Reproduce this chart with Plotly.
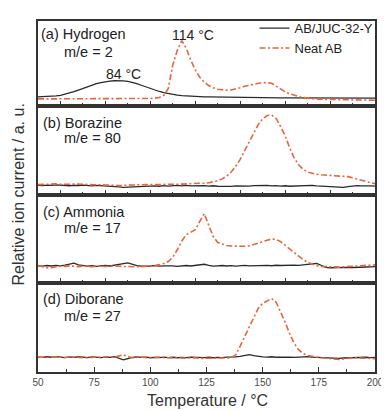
import plotly.graph_objects as go

# ---------------- data ----------------
TEMPERATURE = [50, 52, 54, 56, 58, 60, 62, 64, 66, 68,
               70, 72, 74, 76, 78, 80, 82, 84, 86, 88,
               90, 92, 94, 96, 98, 100, 102, 104, 106, 108,
               110, 112, 114, 116, 118, 120, 122, 124, 126, 128,
               130, 132, 134, 136, 138, 140, 142, 144, 146, 148,
               150, 152, 154, 156, 158, 160, 162, 164, 166, 168,
               170, 172, 174, 176, 178, 180, 182, 184, 186, 188,
               190, 192, 194, 196, 198, 200]

# (a) Hydrogen, m/e = 2
H2_COMPOSITE = [9.3, 9.4, 9.6, 9.9, 10.4, 11.0, 12.0, 13.2, 14.7, 16.4,
                18.2, 19.9, 21.5, 22.9, 24.0, 24.9, 25.5, 25.9, 26.0, 25.8,
                25.2, 24.2, 22.9, 21.3, 19.6, 17.9, 16.3, 14.9, 13.7, 12.7,
                11.9, 11.2, 10.7, 10.3, 10.0, 9.8, 9.6, 9.4, 9.3, 9.2,
                9.1, 9.0, 8.9, 8.9, 8.8, 8.8, 8.7, 8.7, 8.6, 8.6,
                8.6, 8.5, 8.5, 8.5, 8.4, 8.4, 8.4, 8.4, 8.3, 8.3,
                8.3, 8.3, 8.3, 8.2, 8.2, 8.2, 8.2, 8.2, 8.2, 8.2,
                8.2, 8.2, 8.2, 8.2, 8.2, 8.2]
H2_NEAT = [7.3, 7.3, 7.2, 7.3, 7.4, 7.3, 7.2, 7.3, 7.3, 7.4,
           7.3, 7.2, 7.3, 7.3, 7.4, 7.3, 7.3, 7.2, 7.3, 7.4,
           7.4, 7.4, 7.5, 7.5, 7.6, 7.8, 8.1, 8.8, 11.0, 18.0,
           42.0, 57.0, 67.0, 59.0, 47.0, 37.0, 29.5, 24.5, 21.0, 18.6,
           17.2, 16.4, 16.2, 16.5, 17.4, 18.8, 20.2, 21.5, 22.5, 23.3,
           23.8, 24.0, 23.2, 20.5, 17.0, 14.6, 12.5, 10.9, 9.7, 8.7,
           8.0, 7.5, 7.1, 6.9, 6.8, 6.7, 6.6, 6.6, 6.5, 6.4,
           6.3, 6.2, 6.2, 6.1, 6.0, 6.0]

# (b) Borazine, m/e = 80
BORAZINE_COMPOSITE = [10.0, 9.6, 10.2, 9.8, 10.4, 9.9, 10.1, 9.5, 10.0, 9.7,
                      10.2, 9.8, 9.4, 9.9, 9.6, 9.2, 9.5, 8.9, 8.4, 7.8,
                      8.0, 8.6, 8.2, 8.9, 9.1, 8.7, 9.3, 9.0, 9.6, 9.2,
                      9.5, 9.9, 9.4, 9.8, 9.3, 9.6, 10.1, 9.7, 9.2, 9.5,
                      9.0, 8.7, 9.1, 8.8, 9.3, 9.0, 9.4, 9.1, 9.6, 9.8,
                      9.5, 9.9, 9.4, 9.7, 9.2, 9.5, 9.0, 9.3, 9.6, 9.2,
                      9.5, 9.8, 9.4, 9.1, 9.5, 9.2, 8.8, 8.2, 7.9, 8.6,
                      9.2, 9.6, 9.3, 9.7, 9.4, 9.2]
BORAZINE_NEAT = [10.6, 10.9, 11.2, 10.8, 11.4, 11.0, 10.7, 11.1, 11.3, 10.9,
                 11.2, 10.8, 10.6, 10.9, 10.5, 10.3, 10.0, 9.8, 9.6, 9.9,
                 10.2, 10.4, 10.6, 10.5, 10.7, 10.6, 10.8, 10.7, 10.9, 11.0,
                 11.0, 11.0, 11.1, 11.2, 11.4, 11.6, 11.9, 12.2, 12.6, 13.3,
                 14.5, 16.5, 19.5, 23.5, 29.3, 36.5, 45.5, 55.0, 64.0, 72.0,
                 78.0, 81.3, 81.8, 78.3, 70.0, 60.5, 48.5, 38.0, 31.0, 26.3,
                 23.5, 22.0, 21.2, 20.7, 20.4, 20.2, 20.0, 19.7, 19.3, 18.8,
                 17.6, 16.2, 14.9, 13.6, 12.6, 11.6]

# (c) Ammonia, m/e = 17
AMMONIA_COMPOSITE = [17.6, 17.2, 17.9, 17.4, 18.0, 17.5, 18.3, 19.5, 20.4, 18.6,
                     17.8, 17.3, 17.7, 17.1, 17.5, 17.9, 17.4, 18.0, 18.6, 19.8,
                     20.6, 19.0, 17.8, 17.3, 17.0, 17.4, 17.8, 17.2, 17.6, 17.9,
                     17.5, 17.1, 17.6, 17.9, 17.4, 17.8, 18.3, 19.2, 18.0, 17.3,
                     17.6, 17.9, 17.4, 17.8, 17.3, 17.7, 18.1, 17.6, 17.9, 18.2,
                     17.8, 18.1, 17.7, 18.2, 17.9, 18.3, 18.0, 18.4, 18.1, 18.6,
                     19.0, 19.8, 20.0, 18.2, 16.0, 15.6, 15.9, 15.5, 15.8, 16.1,
                     15.9, 16.3, 16.0, 16.4, 16.6, 16.8]
AMMONIA_NEAT = [17.8, 16.4, 15.5, 15.8, 16.6, 17.3, 17.0, 17.5, 17.2, 16.8,
                17.3, 17.0, 16.6, 17.1, 17.4, 16.9, 17.2, 17.6, 17.1, 16.8,
                17.2, 16.9, 16.6, 16.8, 17.1, 17.4, 18.0, 18.8, 20.0, 22.0,
                26.5, 34.0, 43.0, 49.5, 52.0, 54.5, 63.0, 71.0, 59.0, 47.5,
                41.5, 39.5, 38.3, 37.8, 37.6, 37.5, 37.6, 38.0, 39.6, 40.8,
                42.3, 43.8, 45.0, 44.6, 42.3, 38.5, 35.0, 31.0, 27.2, 24.0,
                21.2, 19.2, 17.8, 17.0, 16.6, 16.4, 16.5, 16.3, 16.6, 16.8,
                17.0, 17.3, 17.5, 17.8, 18.2, 18.6]

# (d) Diborane, m/e = 27
DIBORANE_COMPOSITE = [15.3, 14.9, 15.6, 15.1, 15.8, 15.2, 14.7, 15.4, 15.0, 15.6,
                      15.2, 14.8, 15.5, 15.1, 14.7, 15.3, 14.9, 15.6, 14.2, 12.4,
                      13.8, 15.0, 15.4, 14.9, 15.2, 14.6, 15.0, 14.7, 15.3, 14.8,
                      15.1, 14.6, 15.0, 14.7, 15.2, 14.9, 15.3, 14.8, 15.1, 14.6,
                      15.0, 14.7, 15.2, 15.0, 15.4, 15.9, 16.9, 17.8, 16.7, 15.9,
                      15.5, 15.2, 15.6, 15.1, 15.4, 15.0, 15.3, 14.9, 15.2, 15.6,
                      15.8, 15.3, 15.0, 14.6, 14.2, 13.8, 13.5, 13.9, 14.3, 14.6,
                      14.9, 15.2, 14.8, 15.1, 14.7, 15.0]
DIBORANE_NEAT = [15.0, 15.4, 14.9, 15.2, 15.6, 15.1, 14.8, 15.3, 15.5, 15.0,
                 14.7, 15.2, 15.0, 15.4, 14.9, 15.3, 15.6, 15.1, 16.4, 17.6,
                 15.8, 14.6, 14.9, 15.3, 14.7, 15.1, 14.8, 15.2, 14.6, 14.9,
                 14.5, 14.8, 14.3, 14.6, 14.2, 14.5, 13.9, 14.2, 13.8, 14.1,
                 14.3, 14.0, 14.3, 14.5, 17.5, 26.5, 36.2, 46.8, 56.5, 65.0,
                 70.3, 72.8, 75.2, 71.3, 62.0, 51.0, 39.2, 29.5, 22.8, 18.8,
                 17.0, 15.8, 15.2, 14.6, 14.0, 13.5, 13.0, 12.8, 13.3, 14.0,
                 14.6, 14.5, 14.2, 14.0, 13.8, 13.7]

SERIES_NAMES = ["AB/JUC-32-Y", "Neat AB"]
PANEL_TITLES = ["(a) Hydrogen", "(b) Borazine", "(c) Ammonia", "(d) Diborane"]
PANEL_MASS = ["m/e = 2", "m/e = 80", "m/e = 17", "m/e = 27"]
PEAK_LABELS = ["84 °C", "114 °C"]
X_TICKS = [50, 75, 100, 125, 150, 175, 200]

# ---------------- styling / layout ----------------
# The page body has an 8px default margin, so the figure is made 8px smaller
# and the margins are reduced by 8px so the plot area lands where it should.
BODY = 8
W, H = 389 - BODY, 410 - BODY
L, R, T, B = 38 - BODY, 7, 13 - BODY, 38
PLOT_LEFT, PLOT_RIGHT, PLOT_TOP, PLOT_BOTTOM = 38, 382, 13, 372   # page pixels
PW, PH = PLOT_RIGHT - PLOT_LEFT, PLOT_BOTTOM - PLOT_TOP
FONT = "Liberation Sans, Arial, sans-serif"
BLACK = "#2a2a2a"
RED = "#e8643c"
FRAME = "#333333"

# page-pixel boundaries of the 4 stacked panels (top -> bottom)
edges = [13, 100, 191, 281, 372]


def py(p):
    return (PLOT_BOTTOM - p) / PH


def px(p):
    return (p - PLOT_LEFT) / PW


panels = [
    (H2_COMPOSITE, H2_NEAT),
    (BORAZINE_COMPOSITE, BORAZINE_NEAT),
    (AMMONIA_COMPOSITE, AMMONIA_NEAT),
    (DIBORANE_COMPOSITE, DIBORANE_NEAT),
]

fig = go.Figure()
layout = dict(
    width=W, height=H,
    margin=dict(l=L, r=R, t=T, b=B, pad=0),
    paper_bgcolor="white", plot_bgcolor="white",
    font=dict(family=FONT, color="#222222"),
    showlegend=True,
    legend=dict(x=px(259), y=py(5), xanchor="left", yanchor="top",
                bgcolor="rgba(0,0,0,0)", font=dict(size=13, color="#222222"),
                itemwidth=30, tracegroupgap=0),
)

# panel d is the bottom axis (x / y); panels a,b,c use x4,x3,x2
axis_ids = ["4", "3", "2", ""]
for i, (comp, neat) in enumerate(panels):
    aid = axis_ids[i]
    top, bot = edges[i], edges[i + 1]
    xa = "x" + aid
    ya = "y" + aid
    fig.add_trace(go.Scatter(x=TEMPERATURE, y=comp, xaxis=xa, yaxis=ya, mode="lines",
                             line=dict(color=BLACK, width=1.3),
                             name=SERIES_NAMES[0], showlegend=(i == 0)))
    fig.add_trace(go.Scatter(x=TEMPERATURE, y=neat, xaxis=xa, yaxis=ya, mode="lines",
                             line=dict(color=RED, width=1.6, dash="6px,2.5px,2px,2.5px"),
                             name=SERIES_NAMES[1], showlegend=(i == 0)))
    is_bottom = (i == 3)
    xaxis = dict(
        anchor=ya, domain=[0, 1], range=[50, 200],
        showline=True, mirror=True, linecolor=FRAME, linewidth=1.5,
        showgrid=False, zeroline=False,
        ticks="inside", ticklen=5, tickwidth=1.2, tickcolor=FRAME,
        showticklabels=is_bottom,
    )
    if is_bottom:
        xaxis.update(tickmode="array", tickvals=X_TICKS, ticktext=[str(v) for v in X_TICKS],
                     tickfont=dict(size=10, color="#4a4a4a", family=FONT),
                     ticklabeloverflow="allow",
                     minor=dict(ticks="inside", ticklen=3, tickwidth=1.2, tickcolor=FRAME,
                                dtick=12.5, tick0=50, showgrid=False))
    else:
        xaxis.update(tick0=0, dtick=20,
                     minor=dict(ticks="inside", ticklen=3, tickwidth=1.2, tickcolor=FRAME,
                                dtick=10, tick0=0, showgrid=False))
    yaxis = dict(
        anchor=xa, domain=[py(bot), py(top)], range=[0, bot - top],
        showline=True, mirror=True, linecolor=FRAME, linewidth=1.5,
        showgrid=False, zeroline=False, ticks="", showticklabels=False,
    )
    layout["xaxis" + aid] = xaxis
    layout["yaxis" + aid] = yaxis

annotations = []
title_y = [26, 117, 208, 297]
mass_y = [45, 133, 225, 315]
title_x = [39.5, 41.5, 41, 41]
for i in range(4):
    annotations.append(dict(text=PANEL_TITLES[i], xref="paper", yref="paper",
                            x=px(title_x[i]), y=py(title_y[i]), xanchor="left", yanchor="middle",
                            showarrow=False, font=dict(size=14.5, color="#222222")))
    annotations.append(dict(text=PANEL_MASS[i], xref="paper", yref="paper",
                            x=px(62), y=py(mass_y[i]), xanchor="left", yanchor="middle",
                            showarrow=False, font=dict(size=14.5, color="#222222")))
annotations.append(dict(text=PEAK_LABELS[0], xref="paper", yref="paper",
                        x=px(125.5), y=py(67), xanchor="center", yanchor="middle",
                        showarrow=False, font=dict(size=14, color="#222222")))
annotations.append(dict(text=PEAK_LABELS[1], xref="paper", yref="paper",
                        x=px(196.5), y=py(27), xanchor="center", yanchor="middle",
                        showarrow=False, font=dict(size=14, color="#222222")))
annotations.append(dict(text="Relative ion current / a. u.", xref="paper", yref="paper",
                        x=px(18), y=py(190), xanchor="center", yanchor="middle", textangle=-90,
                        showarrow=False, font=dict(size=16, color="#333333")))
annotations.append(dict(text="Temperature / °C", xref="paper", yref="paper",
                        x=px(211), y=py(401), xanchor="center", yanchor="middle",
                        showarrow=False, font=dict(size=16, color="#333333")))
layout["annotations"] = annotations

fig.update_layout(**layout)
fig.write_html("out.html")
